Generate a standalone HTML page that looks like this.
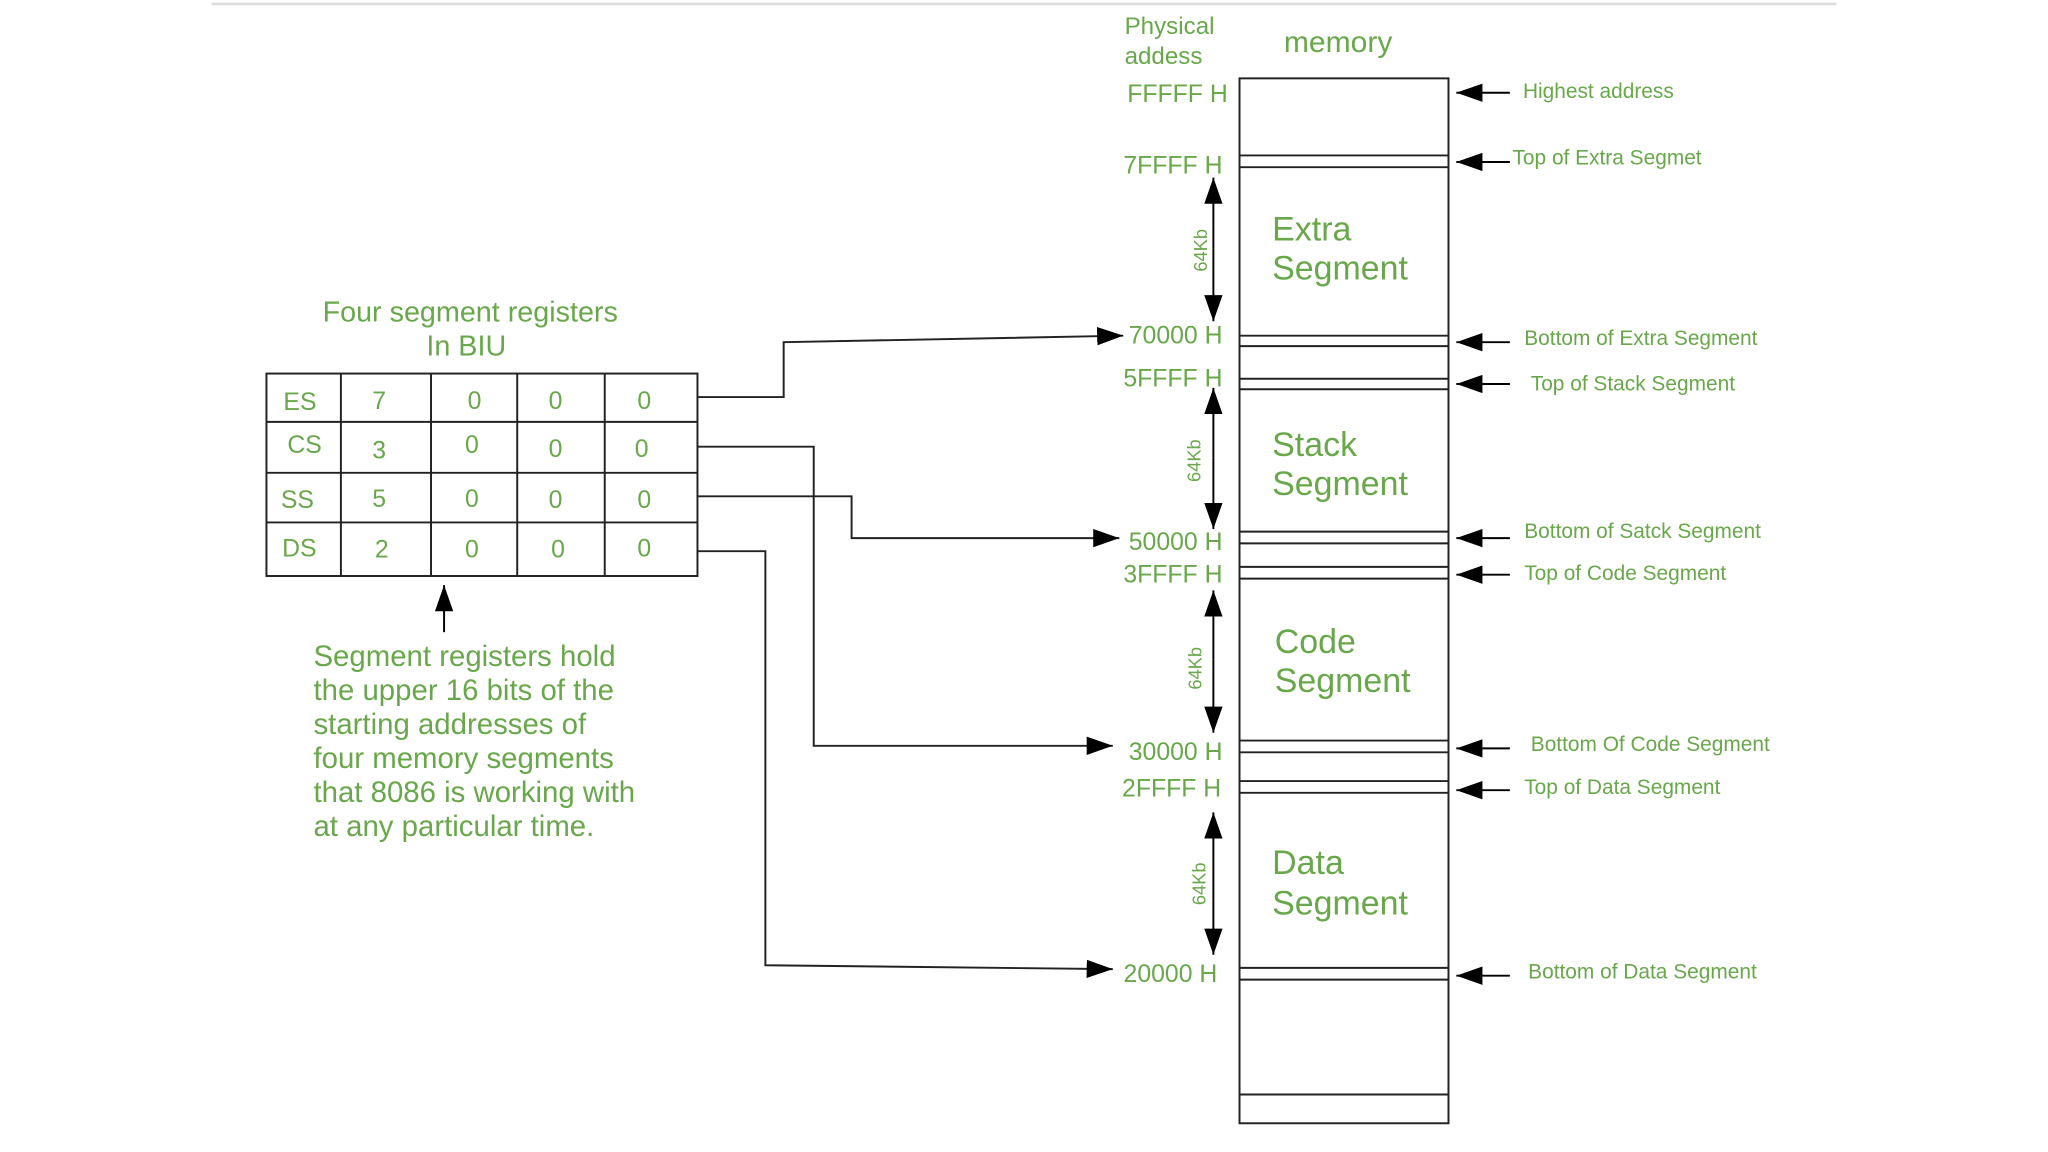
<!DOCTYPE html>
<html><head><meta charset="utf-8"><style>
html,body{margin:0;padding:0;background:#fff;}
svg{display:block;}
text{font-family:"Liberation Sans",sans-serif;fill:#68a84a;}
</style></head><body>
<svg width="2048" height="1152" viewBox="0 0 1568 882" xmlns="http://www.w3.org/2000/svg">
<defs>
<marker id="b" markerWidth="20" markerHeight="14" refX="20" refY="7" orient="auto" markerUnits="userSpaceOnUse"><path d="M0,0 L20,7 L0,14 z" fill="#000"/></marker>
</defs>
<line x1="162" y1="3" x2="1406" y2="3" stroke="#ddd" stroke-width="2"/>

<g stroke="#222" stroke-width="1.5" fill="none">
<rect x="204" y="286" width="330" height="155"/>
<line x1="204" y1="323" x2="534" y2="323"/><line x1="204" y1="362" x2="534" y2="362"/><line x1="204" y1="400" x2="534" y2="400"/>
<line x1="261" y1="286" x2="261" y2="441"/><line x1="330" y1="286" x2="330" y2="441"/><line x1="396" y1="286" x2="396" y2="441"/><line x1="463" y1="286" x2="463" y2="441"/>
</g>
<g font-size="19">
<text x="217" y="314">ES</text><text x="285" y="313">7</text><text x="358" y="313">0</text><text x="420" y="313">0</text><text x="488" y="313">0</text>
<text x="220" y="347">CS</text><text x="285" y="351">3</text><text x="356" y="347">0</text><text x="420" y="350">0</text><text x="486" y="350">0</text>
<text x="215" y="389">SS</text><text x="285" y="388">5</text><text x="356" y="388">0</text><text x="420" y="389">0</text><text x="488" y="389">0</text>
<text x="216" y="426">DS</text><text x="287" y="427">2</text><text x="356" y="427">0</text><text x="422" y="427">0</text><text x="488" y="426">0</text>
</g>
<text x="360" y="246" font-size="22" text-anchor="middle">Four segment registers</text>
<text x="357" y="272" font-size="22" text-anchor="middle">In BIU</text>
<line x1="340" y1="484" x2="340" y2="448" stroke="#000" stroke-width="1.5" marker-end="url(#b)"/>
<g font-size="22.5">
<text x="240" y="510">Segment registers hold</text>
<text x="240" y="536">the upper 16 bits of the</text>
<text x="240" y="562">starting addresses of</text>
<text x="240" y="588">four memory segments</text>
<text x="240" y="614">that 8086 is working with</text>
<text x="240" y="640">at any particular time.</text>
</g>

<g stroke="#222" stroke-width="1.5" fill="none">
<polyline points="534,304 600,304 600,262 860,257" marker-end="url(#b)"/>
<polyline points="534,342 623,342 623,571 852,571" marker-end="url(#b)"/>
<polyline points="534,380 652,380 652,412 857,412" marker-end="url(#b)"/>
<polyline points="534,422 586,422 586,739 852,742" marker-end="url(#b)"/>
</g>

<g stroke="#222" stroke-width="1.5" fill="none">
<rect x="949" y="60" width="160" height="800"/>
<line x1="949" y1="119" x2="1109" y2="119"/><line x1="949" y1="128" x2="1109" y2="128"/>
<line x1="949" y1="257" x2="1109" y2="257"/><line x1="949" y1="265" x2="1109" y2="265"/>
<line x1="949" y1="290" x2="1109" y2="290"/><line x1="949" y1="298" x2="1109" y2="298"/>
<line x1="949" y1="407" x2="1109" y2="407"/><line x1="949" y1="416" x2="1109" y2="416"/>
<line x1="949" y1="434" x2="1109" y2="434"/><line x1="949" y1="443" x2="1109" y2="443"/>
<line x1="949" y1="567" x2="1109" y2="567"/><line x1="949" y1="576" x2="1109" y2="576"/>
<line x1="949" y1="598" x2="1109" y2="598"/><line x1="949" y1="607" x2="1109" y2="607"/>
<line x1="949" y1="741" x2="1109" y2="741"/><line x1="949" y1="750" x2="1109" y2="750"/>
<line x1="949" y1="838" x2="1109" y2="838"/>
</g>
<text x="861" y="26" font-size="18.5">Physical</text>
<text x="861" y="49" font-size="18.5">addess</text>
<text x="983" y="40" font-size="23">memory</text>
<g font-size="19" text-anchor="end">
<text x="940" y="78">FFFFF H</text>
<text x="936" y="133">7FFFF H</text>
<text x="936" y="263">70000 H</text>
<text x="936" y="296">5FFFF H</text>
<text x="936" y="421">50000 H</text>
<text x="936" y="446">3FFFF H</text>
<text x="936" y="582">30000 H</text>
<text x="935" y="610">2FFFF H</text>
<text x="932" y="752">20000 H</text>
</g>
<g font-size="26">
<text x="974" y="184">Extra</text><text x="974" y="214">Segment</text>
<text x="974" y="349">Stack</text><text x="974" y="379">Segment</text>
<text x="976" y="500">Code</text><text x="976" y="530">Segment</text>
<text x="974" y="669">Data</text><text x="974" y="700">Segment</text>
</g>
<g stroke="#000" stroke-width="1.5">
<line x1="929" y1="190" x2="929" y2="136" marker-end="url(#b)"/><line x1="929" y1="190" x2="929" y2="246" marker-end="url(#b)"/>
<line x1="929" y1="350" x2="929" y2="297" marker-end="url(#b)"/><line x1="929" y1="350" x2="929" y2="405" marker-end="url(#b)"/>
<line x1="929" y1="505" x2="929" y2="452" marker-end="url(#b)"/><line x1="929" y1="505" x2="929" y2="561" marker-end="url(#b)"/>
<line x1="929" y1="676" x2="929" y2="622" marker-end="url(#b)"/><line x1="929" y1="676" x2="929" y2="731" marker-end="url(#b)"/>
</g>
<g font-size="14">
<text transform="translate(924,208) rotate(-90)">64Kb</text>
<text transform="translate(919,369) rotate(-90)">64Kb</text>
<text transform="translate(920,528) rotate(-90)">64Kb</text>
<text transform="translate(923,693) rotate(-90)">64Kb</text>
</g>
<g stroke="#000" stroke-width="1.5">
<line x1="1156" y1="71" x2="1115" y2="71" marker-end="url(#b)"/>
<line x1="1156" y1="124" x2="1115" y2="124" marker-end="url(#b)"/>
<line x1="1156" y1="262" x2="1115" y2="262" marker-end="url(#b)"/>
<line x1="1156" y1="294" x2="1115" y2="294" marker-end="url(#b)"/>
<line x1="1156" y1="412" x2="1115" y2="412" marker-end="url(#b)"/>
<line x1="1156" y1="440" x2="1115" y2="440" marker-end="url(#b)"/>
<line x1="1156" y1="573" x2="1115" y2="573" marker-end="url(#b)"/>
<line x1="1156" y1="605" x2="1115" y2="605" marker-end="url(#b)"/>
<line x1="1156" y1="747" x2="1115" y2="747" marker-end="url(#b)"/>
</g>
<g font-size="16">
<text x="1166" y="75">Highest address</text>
<text x="1158" y="126">Top of Extra Segmet</text>
<text x="1167" y="264">Bottom of Extra Segment</text>
<text x="1172" y="299">Top of Stack Segment</text>
<text x="1167" y="412">Bottom of Satck Segment</text>
<text x="1167" y="444">Top of Code Segment</text>
<text x="1172" y="575">Bottom Of Code Segment</text>
<text x="1167" y="608">Top of Data Segment</text>
<text x="1170" y="749">Bottom of Data Segment</text>
</g>
</svg>
</body></html>
